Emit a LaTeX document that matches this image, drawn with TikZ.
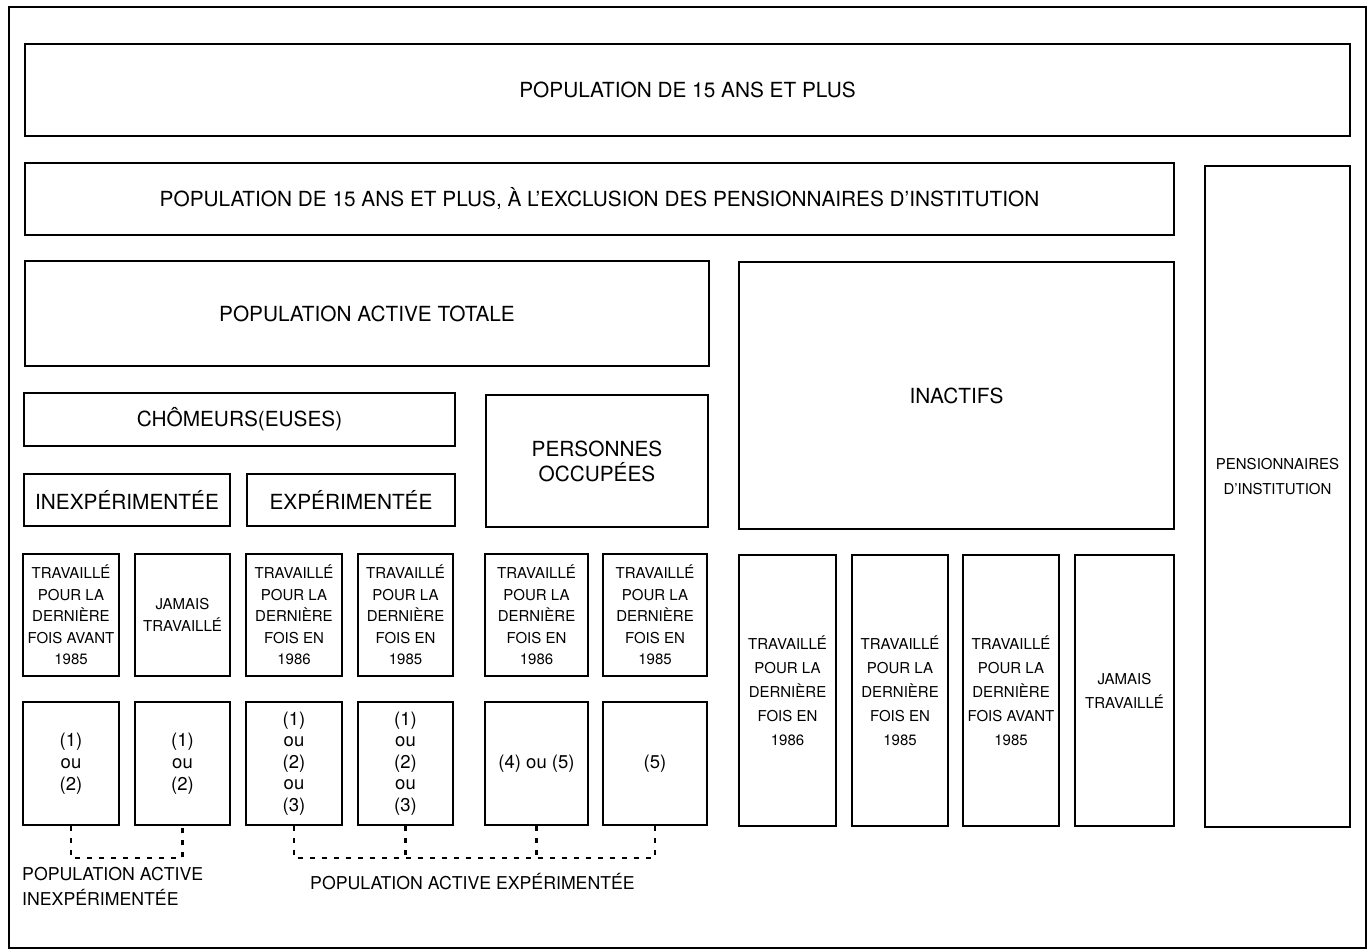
\documentclass[tikz,border=0pt]{standalone}
\usepackage{fontspec}
\setmainfont{TeX Gyre Heros}
\tikzset{
    cadre/.style = {draw, line width=1.6pt, inner sep=2pt, align=center},
    grand/.style = {cadre, font=\fontsize{20.8}{25}\selectfont},
    petit/.style = {cadre, font=\fontsize{15}{21.5}\selectfont},
    colonne/.style = {cadre, font=\fontsize{15}{24}\selectfont},
    renvoi/.style = {cadre, font=\fontsize{18.5}{22}\selectfont},
    pointille/.style = {line width=2.2pt, dash pattern=on 5pt off 7pt},
    legende/.style = {font=\fontsize{17.7}{25}\selectfont, inner sep=0pt, align=left}
}

\begin{document}
\begin{tikzpicture}[x=1pt, y=-1pt]
        \useasboundingbox (0,0) rectangle (1369,952);
        \draw[line width=1.6pt] (9,7) rectangle (1366,948);

        % niveaux superieurs
        \node[grand, minimum width=1325pt, minimum height=92pt] (pop15) at (687.5,90) {POPULATION DE 15 ANS ET PLUS};
        \node[grand, minimum width=1149pt, minimum height=72pt] (popexcl) at (599.5,199) {POPULATION DE 15 ANS ET PLUS, À L'EXCLUSION DES PENSIONNAIRES D'INSTITUTION};
        \node[cadre, font=\fontsize{15}{25}\selectfont, text depth=40pt, minimum width=145pt, minimum height=661pt] (pension) at (1277.5,496.5) {PENSIONNAIRES\\D'INSTITUTION};
        \node[grand, minimum width=684pt, minimum height=105pt] (active) at (367,313.5) {POPULATION ACTIVE TOTALE};
        \node[grand, minimum width=435pt, minimum height=267pt] (inactifs) at (956.5,395.5) {INACTIFS};
        \node[grand, minimum width=431pt, minimum height=53pt] (chom) at (239.5,419.5) {CHÔMEURS(EUSES)};
        \node[grand, minimum width=222pt, minimum height=132pt] (occup) at (597,461) {PERSONNES\\OCCUPÉES};
        \node[grand, minimum width=206pt, minimum height=52pt] (inexp) at (127,500) {INEXPÉRIMENTÉE};
        \node[grand, minimum width=208pt, minimum height=52pt] (exper) at (351,500) {EXPÉRIMENTÉE};

        % cases du premier rang
        \node[petit, minimum width=96pt, minimum height=122pt] (r1a) at (71,615) {TRAVAILLÉ\\POUR LA\\DERNIÈRE\\FOIS AVANT\\1985};
        \node[petit, minimum width=95pt, minimum height=122pt] (r1b) at (182.5,615) {JAMAIS\\TRAVAILLÉ};
        \node[petit, minimum width=96pt, minimum height=122pt] (r1c) at (294,615) {TRAVAILLÉ\\POUR LA\\DERNIÈRE\\FOIS EN\\1986};
        \node[petit, minimum width=95pt, minimum height=122pt] (r1d) at (405.5,615) {TRAVAILLÉ\\POUR LA\\DERNIÈRE\\FOIS EN\\1985};
        \node[petit, minimum width=103pt, minimum height=122pt] (r1e) at (536.5,615) {TRAVAILLÉ\\POUR LA\\DERNIÈRE\\FOIS EN\\1986};
        \node[petit, minimum width=104pt, minimum height=122pt] (r1f) at (655,615) {TRAVAILLÉ\\POUR LA\\DERNIÈRE\\FOIS EN\\1985};

        % cases du second rang
        \node[renvoi, minimum width=96pt, minimum height=123pt] (r2a) at (71,763.5) {(1)\\ou\\(2)};
        \node[renvoi, minimum width=95pt, minimum height=123pt] (r2b) at (182.5,763.5) {(1)\\ou\\(2)};
        \node[renvoi, font=\fontsize{18.5}{21.5}\selectfont, minimum width=96pt, minimum height=123pt] (r2c) at (294,763.5) {(1)\\ou\\(2)\\ou\\(3)};
        \node[renvoi, font=\fontsize{18.5}{21.5}\selectfont, minimum width=95pt, minimum height=123pt] (r2d) at (405.5,763.5) {(1)\\ou\\(2)\\ou\\(3)};
        \node[renvoi, minimum width=103pt, minimum height=123pt] (r2e) at (536.5,763.5) {(4) ou (5)};
        \node[renvoi, minimum width=104pt, minimum height=123pt] (r2f) at (655,763.5) {(5)};

        % inactifs
        \node[colonne, minimum width=97pt, minimum height=271pt] (ina) at (787.5,690.5) {TRAVAILLÉ\\POUR LA\\DERNIÈRE\\FOIS EN\\1986};
        \node[colonne, minimum width=96pt, minimum height=271pt] (inb) at (900,690.5) {TRAVAILLÉ\\POUR LA\\DERNIÈRE\\FOIS EN\\1985};
        \node[colonne, minimum width=96pt, minimum height=271pt] (inc) at (1011,690.5) {TRAVAILLÉ\\POUR LA\\DERNIÈRE\\FOIS AVANT\\1985};
        \node[colonne, minimum width=99pt, minimum height=271pt] (ind) at (1124.5,690.5) {JAMAIS\\TRAVAILLÉ};

        % regroupements
        \draw[pointille] (r2a.south) -- ++(0,32) -| (r2b.south);
        \draw[pointille] (r2c.south) -- ++(0,32) -| (r2f.south);
        \draw[pointille] (r2d.south) -- ++(0,32);
        \draw[pointille] (r2e.south) -- ++(0,32);

        \node[legende, anchor=north west] (lblinexp) at (22,867) {POPULATION ACTIVE\\INEXPÉRIMENTÉE};
        \node[legende] (lblexp) at (472.5,882) {POPULATION ACTIVE EXPÉRIMENTÉE};
    \end{tikzpicture}
\end{document}
